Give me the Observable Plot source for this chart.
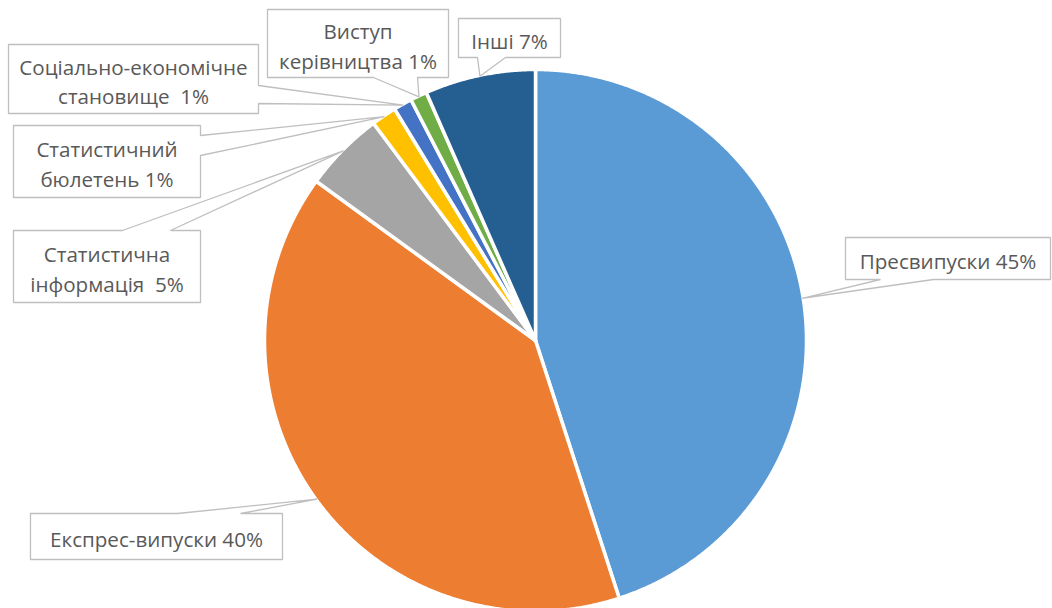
<!DOCTYPE html>
<html>
<head>
<meta charset="utf-8">
<script src="https://cdn.jsdelivr.net/npm/d3@7"></script>
<script src="https://cdn.jsdelivr.net/npm/@observablehq/plot@0.6"></script>
<style>
  html, body { margin: 0; padding: 0; background: #ffffff; }
  #chart svg { display: block; }
</style>
</head>
<body>
<div id="chart"></div>
<script>
// ---- data ----
const categories = [
  "Пресвипуски",
  "Експрес-випуски",
  "Статистична інформація",
  "Статистичний бюлетень",
  "Соціально-економічне становище",
  "Виступ керівництва",
  "Інші"
];
const shares = [45, 40, 4.8, 1.5, 1.1, 1.0, 6.6];
const labelTexts = [
  "Пресвипуски 45%",
  "Експрес-випуски 40%",
  "Статистична\nінформація  5%",
  "Статистичний\nбюлетень 1%",
  "Соціально-економічне\nстановище  1%",
  "Виступ\nкерівництва 1%",
  "Інші 7%"
];
const colors = ["#5B9BD5", "#ED7D31", "#A5A5A5", "#FFC000", "#4472C4", "#70AD47", "#255E91"];

// ---- layout (pixel frame) ----
const W = 1052, H = 608;
const CX = 535, CY = 340, R = 271;
// callout boxes [x1,y1,x2,y2], side of pointer, pointer base positions along that side
const calloutBoxes = [
  [845, 237, 1050, 279],
  [30, 513, 282, 559],
  [13, 230, 200, 302],
  [13, 125, 200, 197],
  [8, 44, 258, 113],
  [267, 9, 448, 77],
  [458, 18, 560, 57]
];
const calloutSides = ["bottom", "top", "top", "right", "right", "bottom", "bottom"];
const calloutBases = [[880, 933], [177, 240], [122, 170], [135, 155], [85, 103], [373, 417], [477, 505]];

// ---- geometry from data ----
const arcs = d3.pie().sort(null).value(d => d)(shares);
const pt = (a, r) => ({x: CX + r * Math.sin(a), y: CY - r * Math.cos(a)});

const slices = arcs.map((a, i) => {
  const pts = [{x: CX, y: CY}];
  const n = Math.max(2, Math.ceil((a.endAngle - a.startAngle) / 0.005));
  for (let k = 0; k <= n; k++) {
    pts.push(pt(a.startAngle + (a.endAngle - a.startAngle) * k / n, R));
  }
  pts.push({x: CX, y: CY});
  return pts.map(p => ({...p, key: categories[i]}));
});

const callouts = arcs.map((a, i) => {
  const tip = pt((a.startAngle + a.endAngle) / 2, R - 1);
  const [x1, y1, x2, y2] = calloutBoxes[i];
  const [p, q] = calloutBases[i];
  let pts;
  if (calloutSides[i] === "top") {
    pts = [[x1, y1], [p, y1], [tip.x, tip.y], [q, y1], [x2, y1], [x2, y2], [x1, y2], [x1, y1]];
  } else if (calloutSides[i] === "right") {
    pts = [[x1, y1], [x2, y1], [x2, p], [tip.x, tip.y], [x2, q], [x2, y2], [x1, y2], [x1, y1]];
  } else {
    pts = [[x1, y1], [x2, y1], [x2, y2], [q, y2], [tip.x, tip.y], [p, y2], [x1, y2], [x1, y1]];
  }
  return pts.map(([x, y]) => ({x, y, key: categories[i]}));
});

const labels = calloutBoxes.map(([x1, y1, x2, y2], i) => ({
  x: (x1 + x2) / 2, y: (y1 + y2) / 2 + 1, text: labelTexts[i]
}));

const marks = [];
slices.forEach((s, i) => {
  marks.push(Plot.line(s, {x: "x", y: "y", fill: colors[i], stroke: "#ffffff", strokeWidth: 3.5, strokeLinejoin: "round", curve: "linear"}));
});
callouts.forEach(c => {
  marks.push(Plot.line(c, {x: "x", y: "y", fill: "#ffffff", stroke: "#bfbfbf", strokeWidth: 1.3, strokeLinejoin: "miter"}));
});
marks.push(Plot.text(labels, {
  x: "x", y: "y", text: "text",
  fill: "#595959", fontSize: 20.6, lineHeight: 1.45,
  textAnchor: "middle", fontFamily: "Open Sans"
}));

const chart = Plot.plot({
  width: W, height: H,
  margin: 0,
  x: {domain: [0, W], range: [0, W], axis: null},
  y: {domain: [0, H], range: [0, H], axis: null},
  style: {background: "#ffffff", fontFamily: "Open Sans"},
  marks
});
document.getElementById("chart").appendChild(chart);
</script>
</body>
</html>
